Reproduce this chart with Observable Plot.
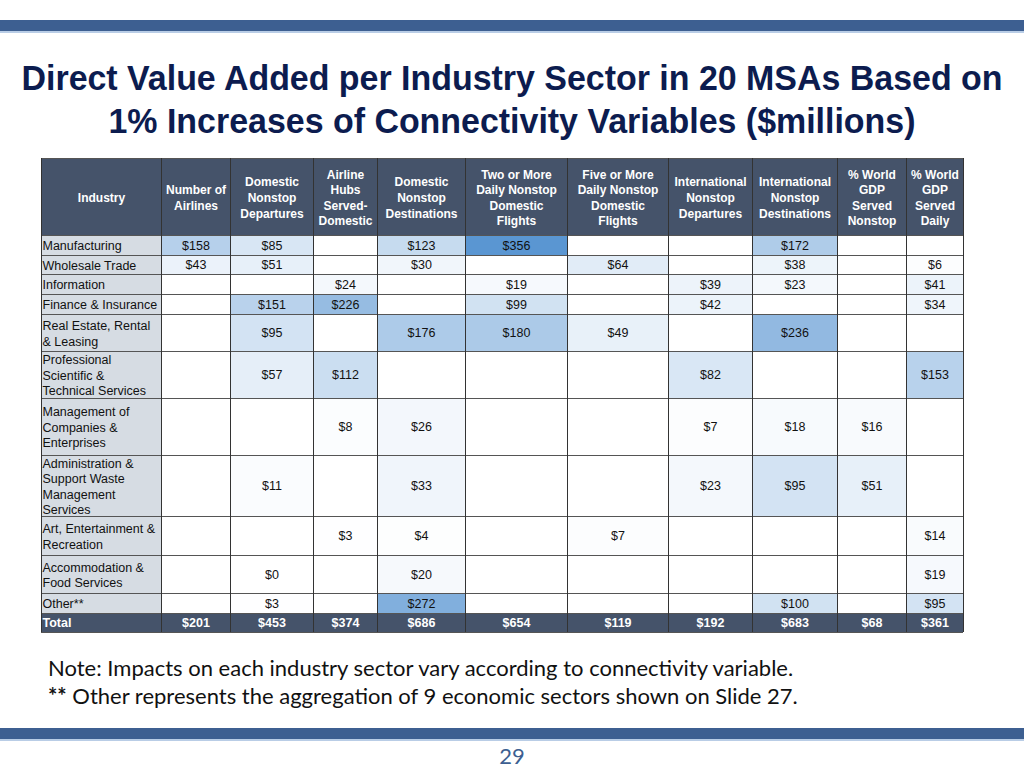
<!DOCTYPE html>
<html>
<head>
<meta charset="utf-8">
<script src="https://cdn.jsdelivr.net/npm/d3@7"></script>
<script src="https://cdn.jsdelivr.net/npm/@observablehq/plot@0.6"></script>
<style>
  html, body { margin:0; padding:0; background:#fff; }
  #page { position:relative; width:1024px; height:768px; overflow:hidden; background:#fff; }
  .bar { position:absolute; left:0; width:1024px; height:11px; background:#3d5f91; border-bottom:2px solid #b9cde6; }
  #title { position:absolute; left:0; top:56px; width:1024px; text-align:center; white-space:nowrap;
    font-family:"Liberation Sans Narrow","Arial Narrow","Liberation Sans",Arial,sans-serif;
    font-weight:bold; font-size:35px; line-height:43px; color:#0c1c4f; transform-origin:512px 0; }
  #title span { display:inline-block; }
  #chart { position:absolute; left:0; top:157px; }
  #note { position:absolute; left:48px; top:654px; font-family:Lato,"Open Sans",sans-serif; font-size:22px; line-height:28px; color:#111; white-space:nowrap; }
  #pagenum { position:absolute; left:0; top:745px; width:1024px; text-align:center; font-family:Lato,"Open Sans",sans-serif; font-size:22px; line-height:22px; color:#3d5f91; }
</style>
</head>
<body>
<div id="page">
  <div class="bar" style="top:20px"></div>
  <div id="title"><span id="t1">Direct Value Added per Industry Sector in 20 MSAs Based on</span><br><span id="t2">1% Increases of Connectivity Variables ($millions)</span></div>
  <div id="chart"></div>
  <div id="note">Note: Impacts on each industry sector vary according to connectivity variable.<br><b>**</b> Other represents the aggregation of 9 economic sectors shown on Slide 27.</div>
  <div class="bar" style="top:728px"></div>
  <div id="pagenum">29</div>
</div>
<script>
// ---------- DATA ----------
const industries = [
  "Manufacturing", "Wholesale Trade", "Information", "Finance & Insurance",
  "Real Estate, Rental\n& Leasing", "Professional\nScientific &\nTechnical Services",
  "Management of\nCompanies &\nEnterprises", "Administration &\nSupport Waste\nManagement\nServices",
  "Art, Entertainment &\nRecreation", "Accommodation &\nFood Services", "Other**"
];
const columnLabels = [
  "Number of\nAirlines", "Domestic\nNonstop\nDepartures", "Airline\nHubs\nServed-\nDomestic",
  "Domestic\nNonstop\nDestinations", "Two or More\nDaily Nonstop\nDomestic\nFlights",
  "Five or More\nDaily Nonstop\nDomestic\nFlights", "International\nNonstop\nDepartures",
  "International\nNonstop\nDestinations", "% World\nGDP\nServed\nNonstop", "% World\nGDP\nServed\nDaily"
];
const numberOfAirlines       = [158, 43, null, null, null, null, null, null, null, null, null];
const domNonstopDepartures   = [85, 51, null, 151, 95, 57, null, 11, null, 0, 3];
const airlineHubsDomestic    = [null, null, 24, 226, null, 112, 8, null, 3, null, null];
const domNonstopDestinations = [123, 30, null, null, 176, null, 26, 33, 4, 20, 272];
const twoOrMoreDaily         = [356, null, 19, 99, 180, null, null, null, null, null, null];
const fiveOrMoreDaily        = [null, 64, null, null, 49, null, null, null, 7, null, null];
const intlNonstopDepartures  = [null, null, 39, 42, null, 82, 7, 23, null, null, null];
const intlNonstopDestinations= [172, 38, 23, null, 236, null, 18, 95, null, null, 100];
const gdpServedNonstop       = [null, null, null, null, null, null, 16, 51, null, null, null];
const gdpServedDaily         = [null, 6, 41, 34, null, 153, null, null, 14, 19, 95];
const totals = [201, 453, 374, 686, 654, 119, 192, 683, 68, 361];

const series = [numberOfAirlines, domNonstopDepartures, airlineHubsDomestic, domNonstopDestinations,
  twoOrMoreDaily, fiveOrMoreDaily, intlNonstopDepartures, intlNonstopDestinations, gdpServedNonstop, gdpServedDaily];

// ---------- LAYOUT ----------
const tableLeft = 41;
const colWidths = [120, 69, 83, 64, 88, 102, 101, 84, 85, 69, 57];      // industry + 10 value columns
const rowHeights = [77, 20, 19, 20, 20, 37, 47, 57, 61, 39, 38, 20, 19]; // header + 11 rows + total
const colEdges = [tableLeft];
colWidths.forEach(w => colEdges.push(colEdges[colEdges.length - 1] + w));
const rowEdges = [1];
rowHeights.forEach(h => rowEdges.push(rowEdges[rowEdges.length - 1] + h));
const H = rowEdges[rowEdges.length - 1] + 2;
const tableRight = colEdges[colEdges.length - 1];

const headerColor = "#45536a";
const industryColor = "#d6dce3";

const headerCells = ["Industry", ...columnLabels].map((t, c) => ({
  text: t, x1: colEdges[c], x2: colEdges[c + 1], y1: rowEdges[0], y2: rowEdges[1]
}));
const industryCells = industries.map((t, r) => ({
  text: t, x1: colEdges[0], x2: colEdges[1], y1: rowEdges[r + 1], y2: rowEdges[r + 2]
}));
const valueCells = [];
industries.forEach((_, r) => {
  series.forEach((s, c) => {
    valueCells.push({ v: s[r], x1: colEdges[c + 1], x2: colEdges[c + 2], y1: rowEdges[r + 1], y2: rowEdges[r + 2] });
  });
});
const totalRow = industries.length + 1;
const totalCells = [{ text: "Total", x1: colEdges[0], x2: colEdges[1], anchor: "start" },
  ...totals.map((v, c) => ({ text: "$" + v, x1: colEdges[c + 1], x2: colEdges[c + 2], anchor: "middle" }))]
  .map(d => ({ ...d, y1: rowEdges[totalRow], y2: rowEdges[totalRow + 1] }));

const cx = d => (d.x1 + d.x2) / 2;
const cy = d => (d.y1 + d.y2) / 2;

const chart = Plot.plot({
  width: 1024, height: H, margin: 0,
  x: { domain: [0, 1024], range: [0, 1024], axis: null },
  y: { domain: [0, H], range: [0, H], axis: null },
  color: { type: "linear", domain: [0, 356], range: ["#ffffff", "#5a96d2"] },
  style: { fontFamily: "'Liberation Sans', Arial, sans-serif", background: "transparent", overflow: "visible" },
  marks: [
    Plot.rect(headerCells, { x1: "x1", x2: "x2", y1: "y1", y2: "y2", fill: headerColor }),
    Plot.rect(industryCells, { x1: "x1", x2: "x2", y1: "y1", y2: "y2", fill: industryColor }),
    Plot.rect(valueCells, { x1: "x1", x2: "x2", y1: "y1", y2: "y2", fill: d => d.v == null ? 0 : d.v }),
    Plot.rect(totalCells, { x1: "x1", x2: "x2", y1: "y1", y2: "y2", fill: headerColor }),
    Plot.ruleY(rowEdges, { x1: tableLeft, x2: tableRight, stroke: "#555", strokeWidth: 1 }),
    Plot.ruleX(colEdges, { y1: rowEdges[0], y2: rowEdges[rowEdges.length - 1], stroke: "#333", strokeWidth: 1 }),
    Plot.text(headerCells, { x: cx, y: cy, text: "text", fill: "white", fontWeight: "bold", fontSize: 12, lineHeight: 1.3 }),
    Plot.text(industryCells, { x: d => d.x1 + 1, y: cy, text: "text", textAnchor: "start", fill: "#111", fontSize: 12.5, lineHeight: 1.24 }),
    Plot.text(valueCells.filter(d => d.v != null), { x: cx, y: cy, text: d => "$" + d.v, fill: "#111", fontSize: 12.5 }),
    Plot.text(totalCells.filter(d => d.anchor === "middle"), { x: cx, y: cy, text: "text", fill: "white", fontWeight: "bold", fontSize: 12.5 }),
    Plot.text(totalCells.filter(d => d.anchor === "start"), { x: d => d.x1 + 1, y: cy, text: "text", textAnchor: "start", fill: "white", fontWeight: "bold", fontSize: 12.5 })
  ]
});
document.getElementById("chart").appendChild(chart);

// fit the title's first line to the reference width (condensed look)
const w1 = document.getElementById("t1").getBoundingClientRect().width;
const s = Math.min(1, 981 / w1);
document.getElementById("title").style.transform = `scaleX(${s})`;
</script>
</body>
</html>
